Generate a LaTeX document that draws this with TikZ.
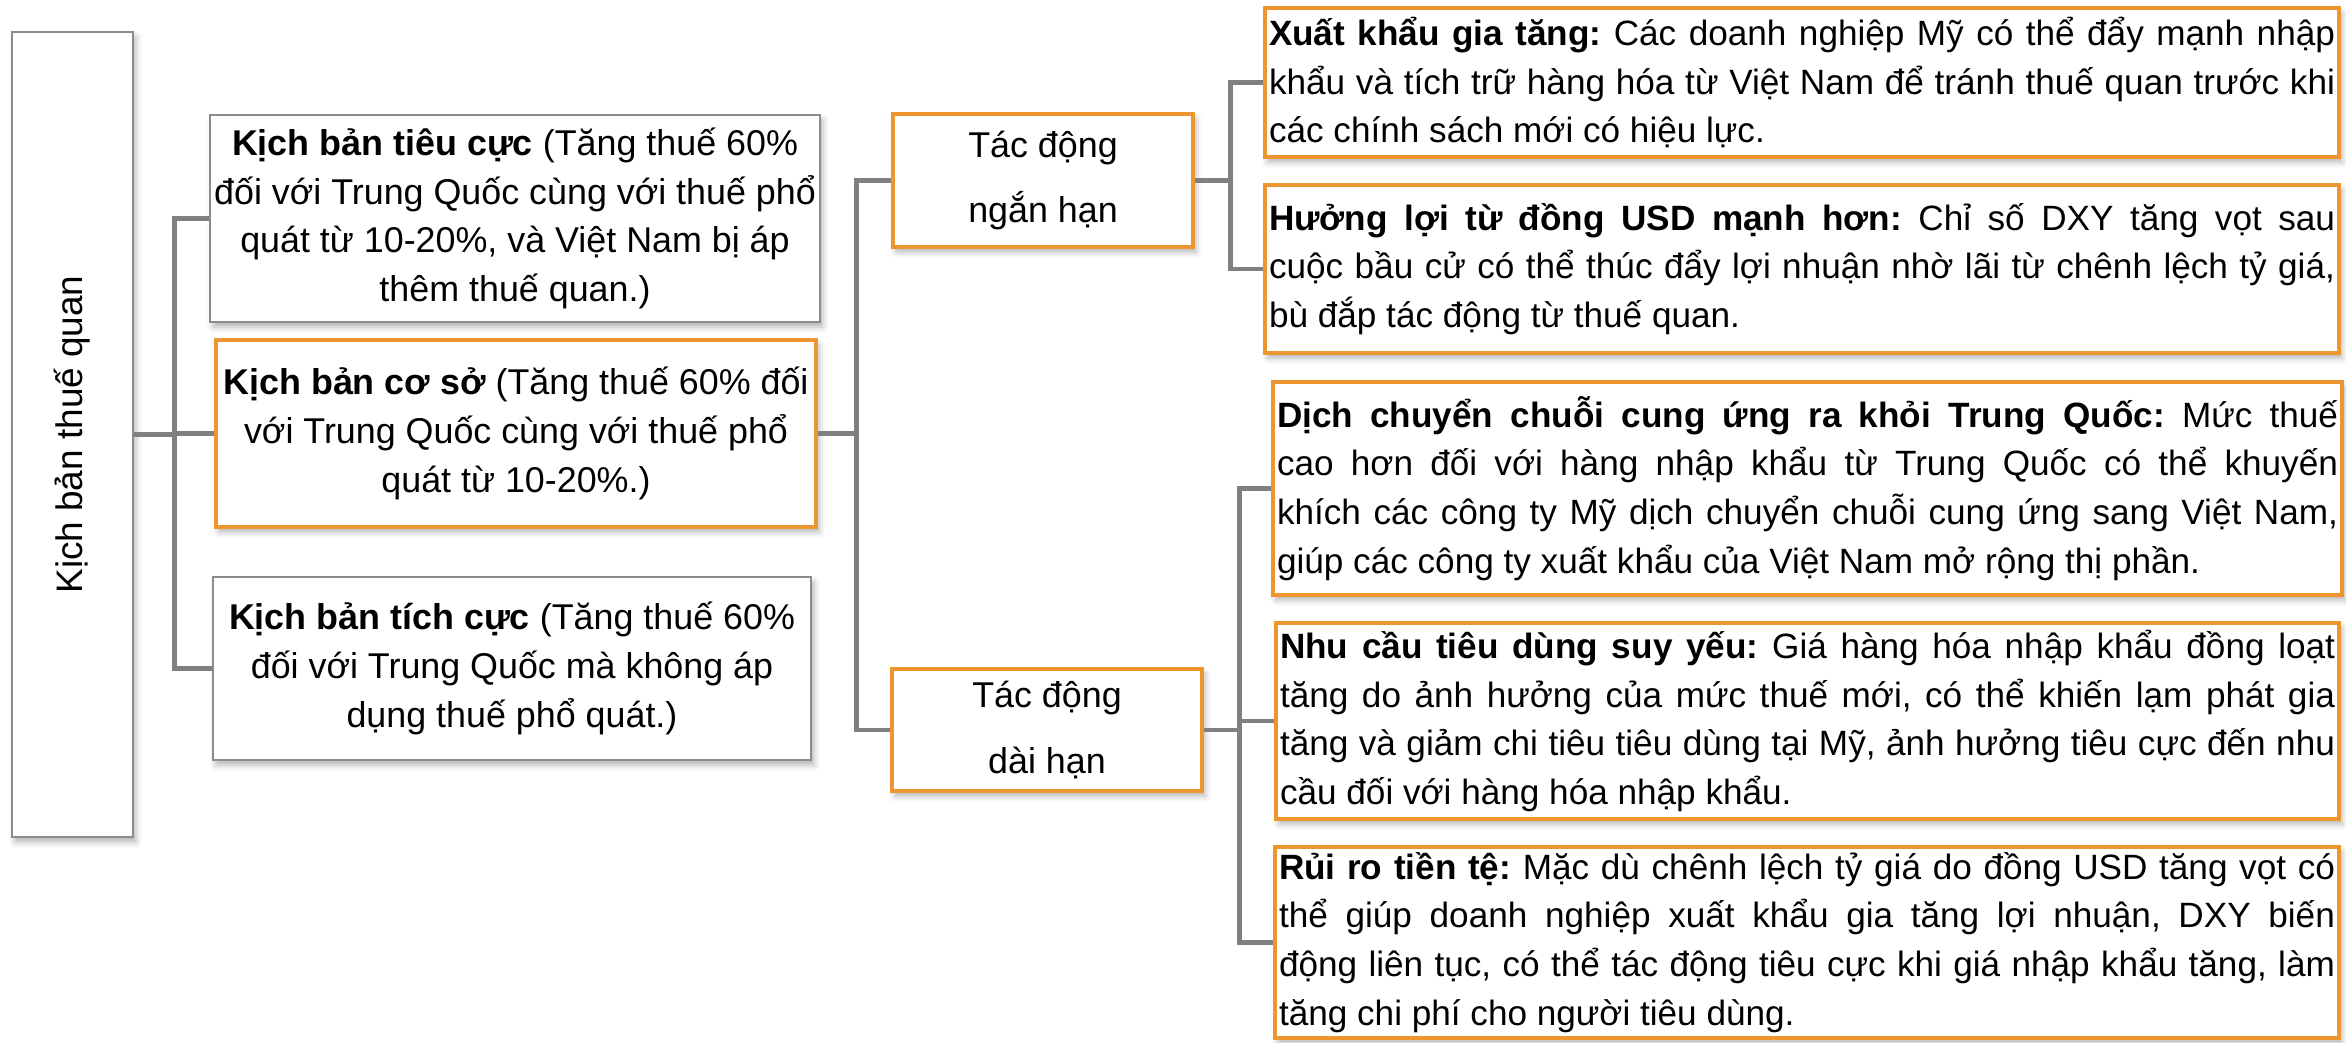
\documentclass[tikz,border=0pt]{standalone}
\usepackage{fontspec}
\setmainfont{Liberation Sans}
\usetikzlibrary{shadows.blur}
\definecolor{linegrey}{RGB}{128,128,128}
\definecolor{boxgrey}{RGB}{140,140,140}
\definecolor{boxorange}{RGB}{237,150,48}
\hyphenpenalty=10000
\exhyphenpenalty=10000
\tolerance=10000
\frenchspacing

\begin{document}
\begin{tikzpicture}[
	x=1mm, y=1mm,
	box/.style={fill=white, line width=0.6pt, inner sep=0.4mm,
		blur shadow={shadow xshift=0.3mm, shadow yshift=-0.5mm,
		shadow blur radius=0.6mm, shadow opacity=30}},
	greybox/.style={box, draw=boxgrey},
	orangebox/.style={box, draw=boxorange, line width=0.9pt},
	scenario/.style={align=center, font=\fontsize{10.2}{13.9}\selectfont},
	term/.style={orangebox, align=center, font=\fontsize{10.2}{18.5}\selectfont},
	effect/.style={orangebox, text width=106.6mm, align=justify,
		font=\fontsize{10}{13.9}\selectfont},
	link/.style={draw=linegrey, line width=1.4pt},
]
\useasboundingbox (0,0) rectangle (234.6,-104.2);
% Input 1: extra options (size, placement).
\def\impact[#1](#2)#3{
	\node[effect, #1] (#2) {#3};
}
% \branch{parent}{bus offset}{child}.
% Line from parent.east to the bus, then down/up and into child.west.
\def\branch#1#2#3{
	\draw[link] (#1.east) -- ++(#2,0) |- (#3.west);
}
	\node[greybox, minimum width=12.1mm, minimum height=80.5mm] (root)
		at (7.25,-43.45) {};
	\node[rotate=90, font=\fontsize{10.5}{12}\selectfont] (roottitle)
		at (root.center) {Kịch bản thuế quan};

	\node[greybox, scenario, minimum width=60.4mm, minimum height=20.7mm,
		right of=root, node distance=44.25mm, yshift=21.6mm] (worse)
		{\textbf{Kịch bản tiêu cực} (Tăng thuế 60\%\\
		đối với Trung Quốc cùng với thuế phổ\\
		quát từ 10-20\%, và Việt Nam bị áp\\thêm thuế quan.)};
	\node[orangebox, scenario, minimum width=60mm, minimum height=18.7mm,
		right of=root, node distance=44.35mm, yshift=0.1mm] (base)
		{\textbf{Kịch bản cơ sở} (Tăng thuế 60\% đối\\
		với Trung Quốc cùng với thuế phổ\\quát từ 10-20\%.)};
	\node[greybox, scenario, minimum width=59.8mm, minimum height=18.3mm,
		right of=root, node distance=43.95mm, yshift=-23.4mm] (better)
		{\textbf{Kịch bản tích cực} (Tăng thuế 60\%\\
		đối với Trung Quốc mà không áp\\dụng thuế phổ quát.)};
	\branch{root}{4}{worse}
	\branch{root}{4}{base}
	\branch{root}{4}{better}

	\node[term, minimum width=30mm, minimum height=13.3mm,
		right of=base, node distance=52.7mm, yshift=25.3mm] (shortrun)
		{Tác động\\ngắn hạn};
	\node[term, minimum width=31mm, minimum height=12.2mm,
		right of=base, node distance=53.1mm, yshift=-29.65mm] (longrun)
		{Tác động\\dài hạn};
	\branch{base}{3.9}{shortrun}
	\branch{base}{3.9}{longrun}

	\impact[minimum height=14.9mm, right of=shortrun, node distance=75.9mm,
		yshift=9.8mm](export){\textbf{Xuất khẩu gia tăng:} Các doanh nghiệp
		Mỹ có thể đẩy mạnh nhập\linebreak khẩu và tích trữ hàng hóa từ Việt
		Nam để tránh thuế quan trước khi\linebreak các chính sách mới có hiệu
		lực.}
	\impact[minimum height=16.8mm, right of=shortrun, node distance=75.9mm,
		yshift=-8.85mm](usd){\textbf{Hưởng lợi từ đồng USD mạnh hơn:} Chỉ số
		DXY tăng vọt sau\linebreak cuộc bầu cử có thể thúc đẩy lợi nhuận nhờ
		lãi từ chênh lệch tỷ giá,\linebreak bù đắp tác động từ thuế quan.}
	\branch{shortrun}{3.6}{export}
	\branch{shortrun}{3.6}{usd}

	\impact[text width=106.1mm, minimum height=21.3mm, right of=longrun,
		node distance=76.05mm, yshift=24.15mm](shift){\textbf{Dịch chuyển
		chuỗi cung ứng ra khỏi Trung Quốc:} Mức thuế\linebreak cao hơn đối với
		hàng nhập khẩu từ Trung Quốc có thể khuyến\linebreak khích các công ty
		Mỹ dịch chuyển chuỗi cung ứng sang Việt Nam,\linebreak giúp các công ty
		xuất khẩu của Việt Nam mở rộng thị phần.}
	\impact[text width=105.5mm, minimum height=19.6mm, right of=longrun,
		node distance=76.05mm, yshift=0.9mm](demand){\textbf{Nhu cầu tiêu dùng
		suy yếu:} Giá hàng hóa nhập khẩu đồng loạt\linebreak tăng do ảnh hưởng
		của mức thuế mới, có thể khiến lạm phát gia\linebreak tăng và giảm chi
		tiêu tiêu dùng tại Mỹ, ảnh hưởng tiêu cực đến nhu\linebreak cầu đối với
		hàng hóa nhập khẩu.}
	\impact[text width=105.6mm, minimum height=19.1mm, right of=longrun,
		node distance=76mm, yshift=-21.25mm](risk){\textbf{Rủi ro tiền tệ:}
		Mặc dù chênh lệch tỷ giá do đồng USD tăng vọt có\linebreak thể giúp
		doanh nghiệp xuất khẩu gia tăng lợi nhuận, DXY biến\linebreak động liên
		tục, có thể tác động tiêu cực khi giá nhập khẩu tăng, làm\linebreak tăng
		chi phí cho người tiêu dùng.}
	\branch{longrun}{3.6}{shift}
	\branch{longrun}{3.6}{demand}
	\branch{longrun}{3.6}{risk}
\end{tikzpicture}
\end{document}
